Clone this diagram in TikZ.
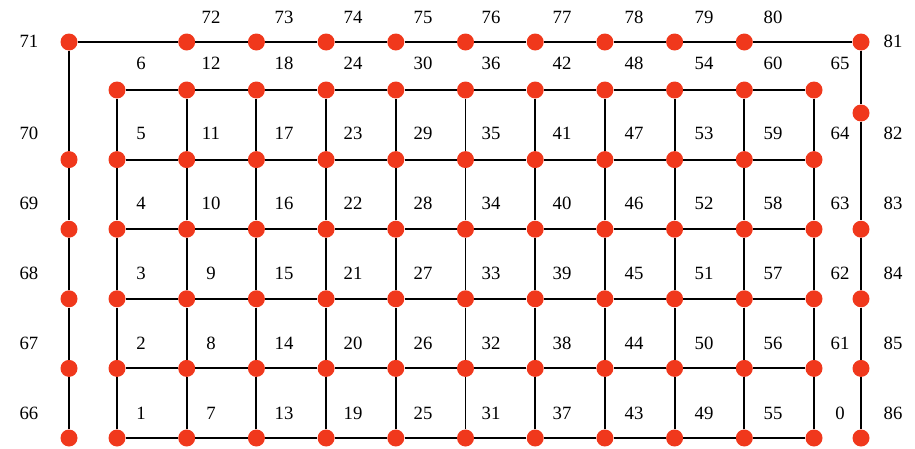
\documentclass[tikz,border=0pt]{standalone}
\usepackage{fontspec}
\setmainfont{Liberation Serif}
\usepackage{xcolor}

\definecolor{dotred}{RGB}{240,56,28}

\begin{document}
\begin{tikzpicture}[x=0.03cm,y=-0.03cm,
  dot/.style={circle,fill=dotred,minimum size=0.51cm,inner sep=0pt},
  wire/.style={line width=1.7pt},
  lbl/.style={font=\fontsize{16}{18}\selectfont,inner sep=1pt}]

\useasboundingbox (0,0) rectangle (915,449);

% inner grid
\foreach \c in {0,...,10}
  \foreach \r in {0,...,5}
    \node[dot] (g\c-\r) at ({117+69.7*\c},{438-69.6*\r}) {};

% outer frame
\node[dot] (lt) at (69,42) {};
\node[dot] (rt) at (861,42) {};
\node[dot] (rh) at (861,113) {};
\foreach \r in {0,...,4}
  \node[dot] (l\r) at (69,{438-69.6*\r}) {};
\foreach \r in {0,...,3}
  \node[dot] (r\r) at (861,{438-69.6*\r}) {};
\foreach \c in {1,...,9}
  \node[dot] (t\c) at ({117+69.7*\c},42) {};

\foreach \r in {0,...,5}
  \foreach \c in {0,...,9} {
    \pgfmathtruncatemacro\nxt{\c+1}
    \draw[wire] (g\c-\r) -- (g\nxt-\r);
  }
\foreach \c in {0,...,10}
  \foreach \r in {0,...,4} {
    \pgfmathtruncatemacro\nxt{\r+1}
    \draw[wire] (g\c-\r) -- (g\c-\nxt);
  }

\draw[wire] (lt) -- (t1) -- (t2) -- (t3) -- (t4) -- (t5) -- (t6) -- (t7) -- (t8) -- (t9) -- (rt);
\draw[wire] (lt) -- (l4) -- (l3) -- (l2) -- (l1) -- (l0);
\draw[wire] (rt) -- (rh) -- (r3) -- (r2) -- (r1) -- (r0);

% numbers
\foreach \x [count=\c from 0] in {141,211,284,353,423,491,562,634,704,773}
  \foreach \r in {0,...,5} {
    \pgfmathtruncatemacro\n{6*\c+\r+1}
    \node[lbl] (n\n) at (\x,{413-70*\r}) {\n};
  }
\node[lbl] (n0) at (840,413) {0};
\foreach \r in {1,...,5} {
  \pgfmathtruncatemacro\n{60+\r}
  \node[lbl] (n\n) at (840,{413-70*\r}) {\n};
}
\foreach \x [count=\c] in {211,284,353,423,491,562,634,704,773} {
  \pgfmathtruncatemacro\n{71+\c}
  \node[lbl] (n\n) at (\x,17) {\n};
}
\foreach \n/\y in {66/413,67/343,68/273,69/203,70/133,71/41}
  \node[lbl] (n\n) at (29,\y) {\n};
\foreach \n/\y in {81/41,82/133,83/203,84/273,85/343,86/413}
  \node[lbl] (n\n) at (893,\y) {\n};

\end{tikzpicture}
\end{document}
